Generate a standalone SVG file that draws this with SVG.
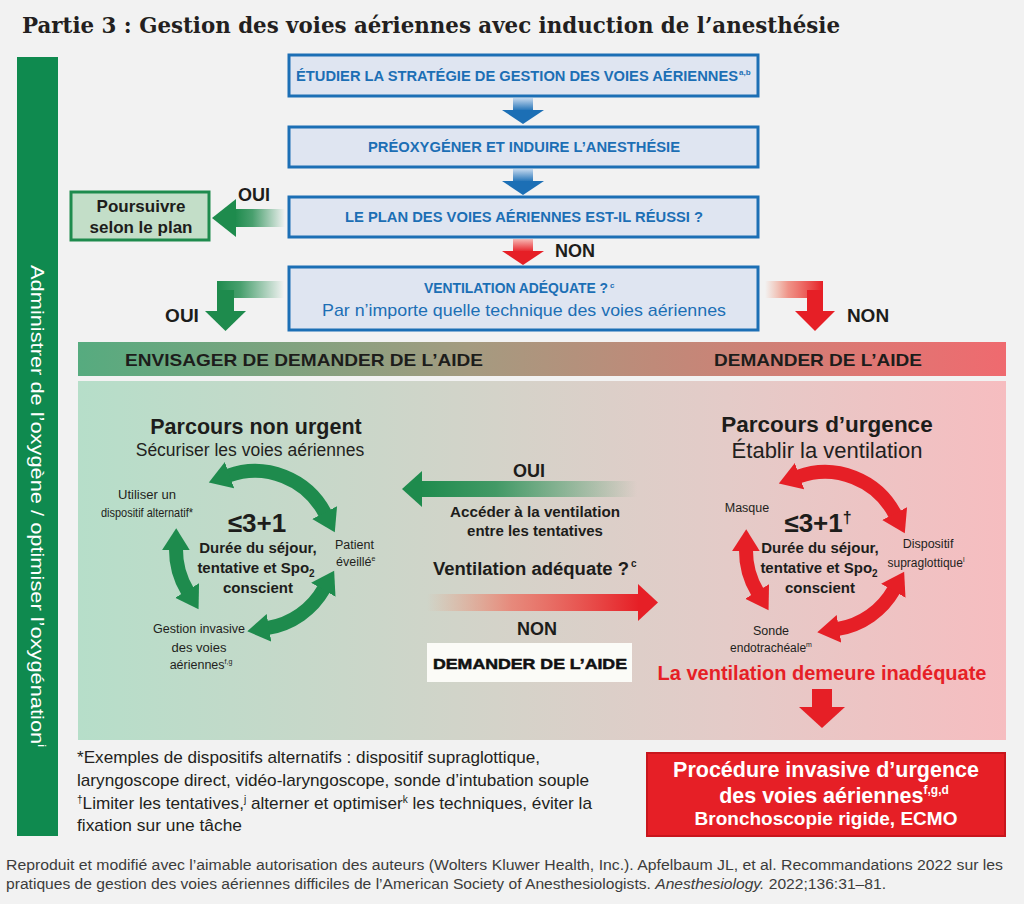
<svg xmlns="http://www.w3.org/2000/svg" width="1024" height="904" viewBox="0 0 1024 904">
<style>
.s{font-family:"Liberation Sans",Arial,sans-serif}
.bt{font-family:"Liberation Sans",Arial,sans-serif;font-weight:bold;fill:#1c6fb5}
.lbl{font-family:"Liberation Sans",Arial,sans-serif;font-weight:bold;fill:#1d1d1b}
.sm{font-family:"Liberation Sans",Arial,sans-serif;fill:#231f20}
.ctr{font-family:"Liberation Sans",Arial,sans-serif;font-weight:bold;fill:#1d1d1b}
.box{fill:#dfe5f1;stroke:#1c6fb5;stroke-width:3}
.fn{font-family:"Liberation Sans",Arial,sans-serif;fill:#231f20}
.ft{font-family:"Liberation Sans",Arial,sans-serif;fill:#3c3c3b}
</style>
<defs>
<linearGradient id="gBlue" x1="0" y1="0" x2="0" y2="1"><stop offset="0" stop-color="#c4d8ee"/><stop offset="1" stop-color="#1c6fb5"/></linearGradient>
<linearGradient id="gRedV" x1="0" y1="0" x2="0" y2="1"><stop offset="0" stop-color="#f7b8b4"/><stop offset="1" stop-color="#e61f26"/></linearGradient>
<linearGradient id="gGreenL" x1="0" y1="0" x2="1" y2="0"><stop offset="0" stop-color="#1e8b4d"/><stop offset="0.35" stop-color="#1e8b4d" stop-opacity="0.8"/><stop offset="1" stop-color="#1e8b4d" stop-opacity="0"/></linearGradient>
<linearGradient id="gRedR" x1="0" y1="0" x2="1" y2="0"><stop offset="0" stop-color="#f0845a" stop-opacity="0"/><stop offset="0.4" stop-color="#ee6a5a" stop-opacity="0.7"/><stop offset="1" stop-color="#e61f26"/></linearGradient>
<linearGradient id="gBand" x1="0" y1="0" x2="1" y2="0"><stop offset="0" stop-color="#56ab7f"/><stop offset="0.42" stop-color="#a49b80"/><stop offset="0.62" stop-color="#bf8a79"/><stop offset="0.85" stop-color="#de7773"/><stop offset="1" stop-color="#ef6a6f"/></linearGradient>
<linearGradient id="gPanel" x1="0" y1="0" x2="1" y2="0"><stop offset="0" stop-color="#b6dec9"/><stop offset="0.45" stop-color="#d4d3c9"/><stop offset="0.7" stop-color="#e4cbc8"/><stop offset="1" stop-color="#f6bdc0"/></linearGradient>
<marker id="gh" markerUnits="userSpaceOnUse" markerWidth="24" markerHeight="30" viewBox="0 0 24 30" refX="1" refY="15" orient="auto-start-reverse"><path d="M0,1 L22,15 L0,29 Z" fill="#1e8b4d"/></marker>
<marker id="rh" markerUnits="userSpaceOnUse" markerWidth="24" markerHeight="30" viewBox="0 0 24 30" refX="1" refY="15" orient="auto-start-reverse"><path d="M0,1 L22,15 L0,29 Z" fill="#e61f26"/></marker>
</defs>
<rect x="0" y="0" width="1024" height="904" fill="#f2f2f2"/>

<text x="22" y="33" font-family="DejaVu Serif, Liberation Serif, serif" font-weight="bold" font-size="22.5" fill="#231f20" textLength="818" lengthAdjust="spacingAndGlyphs">Partie 3 : Gestion des voies aériennes avec induction de l’anesthésie</text>

<g id="oxygen-bar">
<rect x="17" y="57" width="41" height="779" fill="#0f8a4f"/>
<text transform="translate(31,265) rotate(90)" class="s" font-size="19" fill="#ffffff" textLength="482" lengthAdjust="spacingAndGlyphs">Administrer de l’oxygène / optimiser l’oxygénation<tspan font-size="11" dy="-7">i</tspan></text>
</g>

<g id="n-band">
<rect x="78" y="342" width="928" height="34" fill="url(#gBand)"/>
<text x="125" y="366" class="lbl" font-size="17" textLength="358" lengthAdjust="spacingAndGlyphs">ENVISAGER DE DEMANDER DE L’AIDE</text>
<text x="714" y="366" class="lbl" font-size="17" textLength="208" lengthAdjust="spacingAndGlyphs">DEMANDER DE L’AIDE</text>
</g>

<g id="n-panel">
<rect x="78" y="381" width="928" height="359" fill="url(#gPanel)"/>
</g>

<g id="connectors">
<rect x="513" y="98" width="20" height="13" fill="url(#gBlue)"/>
<polygon points="502,110 544,110 523,124" fill="#1c6fb5"/>
<rect x="513" y="169" width="20" height="13" fill="url(#gBlue)"/>
<polygon points="502,181 544,181 523,195" fill="#1c6fb5"/>
<rect x="513" y="239" width="20" height="13" fill="url(#gRedV)"/>
<polygon points="502,251 544,251 523,265" fill="#e61f26"/>
<rect x="235" y="209" width="50" height="18" fill="url(#gGreenL)"/>
<polygon points="212,218 236,199 236,237" fill="#1e8b4d"/>
<rect x="217" y="281" width="67" height="17" fill="url(#gGreenL)"/>
<rect x="217" y="290" width="17" height="22" fill="#1e8b4d"/>
<polygon points="205,311 246,311 225.5,331" fill="#1e8b4d"/>
<rect x="765" y="281" width="58" height="17" fill="url(#gRedR)"/>
<rect x="807" y="290" width="16" height="22" fill="#e61f26"/>
<polygon points="795,311 835,311 815,331" fill="#e61f26"/>
<rect x="420" y="481" width="217" height="16" fill="url(#gGreenL)"/>
<polygon points="402,489 422,471 422,507" fill="#1e8b4d"/>
<rect x="427" y="594" width="212" height="17" fill="url(#gRedR)"/>
<polygon points="638,584 658,602.5 638,621" fill="#e61f26"/>
<rect x="812" y="689" width="20" height="19" fill="#e61f26"/>
<polygon points="799,707 845,707 822,728" fill="#e61f26"/>
<text x="254" y="201" class="lbl" font-size="18" text-anchor="middle">OUI</text>
<text x="575" y="257" class="lbl" font-size="18" text-anchor="middle">NON</text>
<text x="182" y="322" class="lbl" font-size="19" text-anchor="middle">OUI</text>
<text x="868" y="322" class="lbl" font-size="19" text-anchor="middle">NON</text>
<text x="529" y="477" class="lbl" font-size="18" text-anchor="middle">OUI</text>
<text x="537" y="635" class="lbl" font-size="18" text-anchor="middle">NON</text>
</g>

<g id="n-etudier">
<rect x="289" y="55" width="469" height="41" class="box"/>
<text x="517" y="81" class="bt" font-size="14" text-anchor="middle" textLength="442" lengthAdjust="spacingAndGlyphs">ÉTUDIER LA STRATÉGIE DE GESTION DES VOIES AÉRIENNES</text>
<text x="739" y="75" class="bt" font-size="8">a,b</text>
</g>
<g id="n-preoxygener">
<rect x="289" y="127" width="469" height="40" class="box"/>
<text x="524" y="152" class="bt" font-size="14" text-anchor="middle" textLength="312" lengthAdjust="spacingAndGlyphs">PRÉOXYGÉNER ET INDUIRE L’ANESTHÉSIE</text>
</g>
<g id="n-plan">
<rect x="289" y="197" width="469" height="40" class="box"/>
<text x="524" y="222" class="bt" font-size="14" text-anchor="middle" textLength="358" lengthAdjust="spacingAndGlyphs">LE PLAN DES VOIES AÉRIENNES EST-IL RÉUSSI ?</text>
</g>
<g id="n-ventilation">
<rect x="289" y="267" width="469" height="63" class="box"/>
<text x="516" y="293" class="bt" font-size="14" text-anchor="middle" textLength="184" lengthAdjust="spacingAndGlyphs">VENTILATION ADÉQUATE ?</text>
<text x="610" y="288" class="bt" font-size="8">c</text>
<text x="524" y="316" class="s" font-size="17" fill="#1c6fb5" text-anchor="middle" textLength="404" lengthAdjust="spacingAndGlyphs">Par n’importe quelle technique des voies aériennes</text>
</g>
<g id="n-poursuivre">
<rect x="71" y="192" width="138" height="48" fill="#c3dec8" stroke="#1e8b4d" stroke-width="3"/>
<text x="141" y="212" class="lbl" font-size="17" text-anchor="middle">Poursuivre</text>
<text x="141" y="233" class="lbl" font-size="17" text-anchor="middle">selon le plan</text>
</g>

<g id="n-nonurgent">
<text x="256" y="434" class="lbl" font-size="21.5" text-anchor="middle">Parcours non urgent</text>
<text x="250" y="456" class="s" font-size="17.5" fill="#231f20" text-anchor="middle">Sécuriser les voies aériennes</text>
<path d="M228.6,475.5 A79,79 0 0 1 325.1,513.5" fill="none" stroke="#1e8b4d" stroke-width="14" marker-start="url(#gh)" marker-end="url(#gh)"/>
<path d="M187.6,591.3 A79,79 0 0 1 176,549.3" fill="none" stroke="#1e8b4d" stroke-width="14" marker-start="url(#gh)" marker-end="url(#gh)"/>
<path d="M323.8,588.9 A79,79 0 0 1 268,627.9" fill="none" stroke="#1e8b4d" stroke-width="14" marker-start="url(#gh)" marker-end="url(#gh)"/>
<text x="257" y="532" class="ctr" font-size="26" text-anchor="middle">≤3+1</text>
<text x="258" y="553" class="ctr" font-size="15" text-anchor="middle">Durée du séjour,</text>
<text x="256" y="573" class="ctr" font-size="15" text-anchor="middle">tentative et Spo<tspan font-size="10" dy="4">2</tspan></text>
<text x="258" y="593" class="ctr" font-size="15" text-anchor="middle">conscient</text>
<text x="147" y="499" class="sm" font-size="13" text-anchor="middle" textLength="58" lengthAdjust="spacingAndGlyphs">Utiliser un</text>
<text x="147" y="517" class="sm" font-size="13" text-anchor="middle" textLength="92" lengthAdjust="spacingAndGlyphs">dispositif alternatif*</text>
<text x="335" y="549" class="sm" font-size="12.5">Patient</text>
<text x="336" y="566" class="sm" font-size="12.5">éveillé<tspan font-size="7" dy="-5">e</tspan></text>
<text x="199" y="633" class="sm" font-size="13" text-anchor="middle" textLength="92" lengthAdjust="spacingAndGlyphs">Gestion invasive</text>
<text x="199" y="652" class="sm" font-size="13" text-anchor="middle">des voies</text>
<text x="201" y="669" class="sm" font-size="12.5" text-anchor="middle">aériennes<tspan font-size="7" dy="-5">f,g</tspan></text>
</g>

<g id="n-urgence">
<text x="827" y="432" class="lbl" font-size="22.5" text-anchor="middle">Parcours d’urgence</text>
<text x="827" y="458" class="s" font-size="22" fill="#231f20" text-anchor="middle">Établir la ventilation</text>
<g transform="translate(570,1)">
<path d="M228.6,475.5 A79,79 0 0 1 325.1,513.5" fill="none" stroke="#e61f26" stroke-width="14" marker-start="url(#rh)" marker-end="url(#rh)"/>
<path d="M187.6,591.3 A79,79 0 0 1 176,549.3" fill="none" stroke="#e61f26" stroke-width="14" marker-start="url(#rh)" marker-end="url(#rh)"/>
<path d="M323.8,588.9 A79,79 0 0 1 268,627.9" fill="none" stroke="#e61f26" stroke-width="14" marker-start="url(#rh)" marker-end="url(#rh)"/>
</g>
<text x="818" y="532" class="ctr" font-size="26" text-anchor="middle">≤3+1<tspan font-size="16" dy="-9">†</tspan></text>
<text x="820" y="553" class="ctr" font-size="15" text-anchor="middle">Durée du séjour,</text>
<text x="819" y="573" class="ctr" font-size="15" text-anchor="middle">tentative et Spo<tspan font-size="10" dy="4">2</tspan></text>
<text x="820" y="593" class="ctr" font-size="15" text-anchor="middle">conscient</text>
<text x="747" y="512" class="sm" font-size="12.5" text-anchor="middle">Masque</text>
<text x="928" y="548" class="sm" font-size="12.5" text-anchor="middle">Dispositif</text>
<text x="926" y="567" class="sm" font-size="12" text-anchor="middle">supraglottique<tspan font-size="7" dy="-5">l</tspan></text>
<text x="771" y="635" class="sm" font-size="12.5" text-anchor="middle">Sonde</text>
<text x="771" y="652" class="sm" font-size="12" text-anchor="middle">endotrachéale<tspan font-size="7" dy="-5">m</tspan></text>
<text x="822" y="680" class="s" font-size="20" font-weight="bold" fill="#e61f26" text-anchor="middle">La ventilation demeure inadéquate</text>
</g>

<g id="n-middle">
<text x="535" y="517" class="ctr" font-size="15" text-anchor="middle" textLength="170" lengthAdjust="spacingAndGlyphs">Accéder à la ventilation</text>
<text x="535" y="536" class="ctr" font-size="15" text-anchor="middle">entre les tentatives</text>
<text x="433" y="575" class="lbl" font-size="17.5" textLength="196" lengthAdjust="spacingAndGlyphs">Ventilation adéquate ?</text>
<text x="631" y="567" class="lbl" font-size="10">c</text>
</g>

<g id="n-demander">
<rect x="427" y="643" width="205" height="39" fill="#fbfbf7"/>
<text x="530" y="669" class="s" font-size="15" font-weight="bold" fill="#111" stroke="#111" stroke-width="0.5" text-anchor="middle" textLength="194" lengthAdjust="spacingAndGlyphs">DEMANDER DE L’AIDE</text>
</g>

<g id="n-invasive">
<rect x="647" y="753" width="358" height="83" fill="#e61f26" stroke="#c8161d" stroke-width="2"/>
<text x="826" y="777" class="s" font-size="21.5" font-weight="bold" fill="#ffffff" text-anchor="middle">Procédure invasive d’urgence</text>
<text x="834" y="803" class="s" font-size="21.5" font-weight="bold" fill="#ffffff" text-anchor="middle">des voies aériennes<tspan font-size="12" dy="-9">f,g,d</tspan></text>
<text x="826" y="825" class="s" font-size="19" font-weight="bold" fill="#ffffff" text-anchor="middle">Bronchoscopie rigide, ECMO</text>
</g>

<g id="footnotes">
<text x="77" y="763" class="fn" font-size="17" textLength="463" lengthAdjust="spacingAndGlyphs">*Exemples de dispositifs alternatifs : dispositif supraglottique,</text>
<text x="77" y="786" class="fn" font-size="17" textLength="512" lengthAdjust="spacingAndGlyphs">laryngoscope direct, vidéo-laryngoscope, sonde d’intubation souple</text>
<text x="77" y="809" class="fn" font-size="17" textLength="515" lengthAdjust="spacingAndGlyphs"><tspan font-size="10" dy="-6">†</tspan><tspan dy="6">Limiter les tentatives,</tspan><tspan font-size="10" dy="-6">j</tspan><tspan dy="6"> alterner et optimiser</tspan><tspan font-size="10" dy="-6">k</tspan><tspan dy="6"> les techniques, éviter la</tspan></text>
<text x="77" y="831" class="fn" font-size="17" textLength="165" lengthAdjust="spacingAndGlyphs">fixation sur une tâche</text>
</g>

<g id="footer">
<text x="6" y="870" class="ft" font-size="14" textLength="997" lengthAdjust="spacingAndGlyphs">Reproduit et modifié avec l’aimable autorisation des auteurs (Wolters Kluwer Health, Inc.). Apfelbaum JL, et al. Recommandations 2022 sur les</text>
<text x="6" y="889" class="ft" font-size="14" textLength="880" lengthAdjust="spacingAndGlyphs">pratiques de gestion des voies aériennes difficiles de l’American Society of Anesthesiologists. <tspan font-style="italic">Anesthesiology.</tspan> 2022;136:31–81.</text>
</g>
</svg>
